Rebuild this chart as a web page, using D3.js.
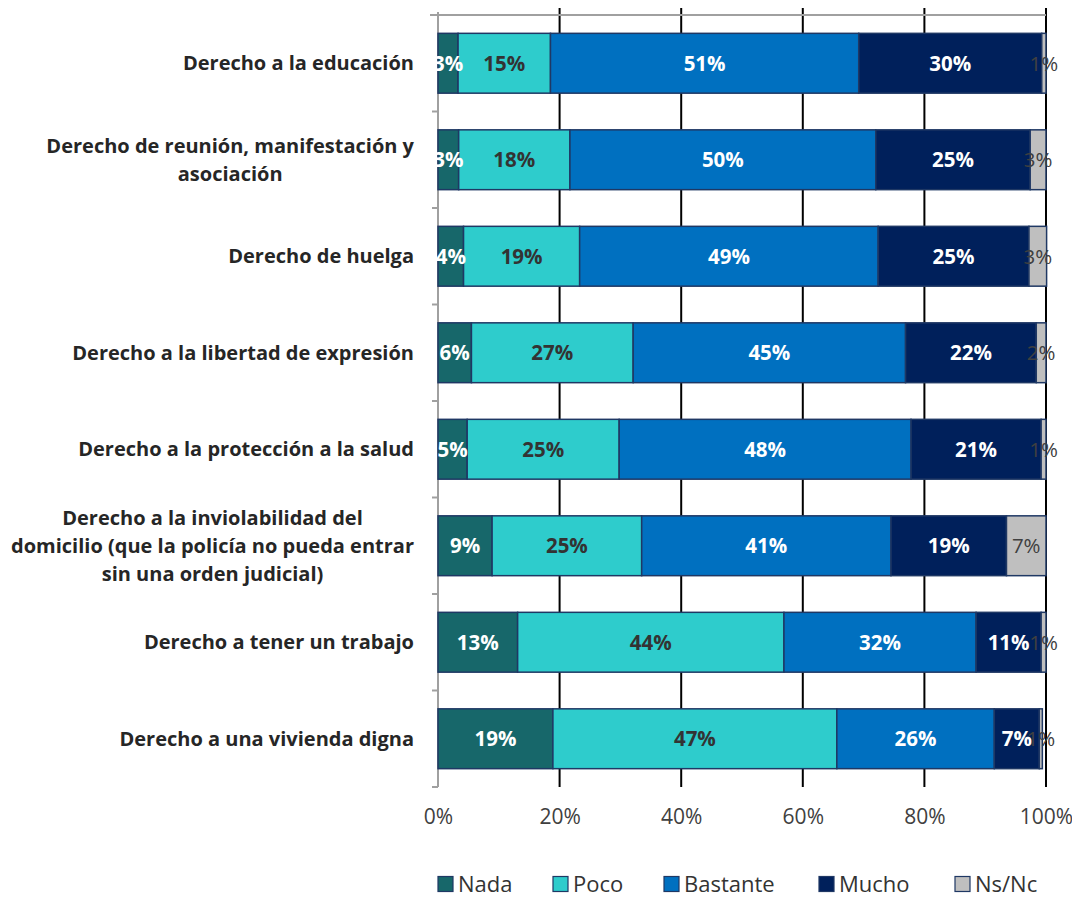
<!DOCTYPE html>
<html>
<head>
<meta charset="utf-8">
<script src="https://cdn.jsdelivr.net/npm/d3@7"></script>
<style>
  html, body { margin: 0; padding: 0; background: #fff; }
  svg { display: block; font-family: "Open Sans", sans-serif; }
</style>
</head>
<body>
<svg id="chart" width="1072" height="898"></svg>
<script>
// ---- data ----
const categories = [
  "Derecho a la educación",
  "Derecho de reunión, manifestación y\nasociación",
  "Derecho de huelga",
  "Derecho a la libertad de expresión",
  "Derecho a la protección a la salud",
  "Derecho a la inviolabilidad del\ndomicilio (que la policía no pueda entrar\nsin una orden judicial)",
  "Derecho a tener un trabajo",
  "Derecho a una vivienda digna"
];
const seriesNames = ["Nada", "Poco", "Bastante", "Mucho", "Ns/Nc"];
const nada     = [3.3, 3.4, 4.2, 5.5, 4.8, 8.9, 13.1, 18.9];
const poco     = [15.2, 18.3, 19.1, 26.6, 25.0, 24.6, 43.8, 46.7];
const bastante = [50.7, 50.3, 49.1, 44.8, 48.0, 41.0, 31.6, 25.9];
const mucho    = [30.1, 25.4, 24.8, 21.5, 21.4, 19.0, 10.7, 7.4];
const nsnc     = [0.7, 2.6, 2.9, 1.6, 0.8, 6.5, 0.8, 0.5];
const tickValues = [0, 20, 40, 60, 80, 100];

const seriesValues = [nada, poco, bastante, mucho, nsnc];
const colors = ["#17676A", "#2ECCCC", "#0070C0", "#00205B", "#BFBFBF"];
const labelColors = ["#FFFFFF", "#333333", "#FFFFFF", "#FFFFFF", "#404040"];
const labelWeights = ["bold", "bold", "bold", "bold", "normal"];

// ---- build table ----
const table = categories.map((c, i) => {
  const row = { category: c };
  seriesNames.forEach((s, j) => row[s] = seriesValues[j][i]);
  return row;
});
const stacked = d3.stack().keys(seriesNames)(table);

const svg = d3.select("#chart");
const x = d3.scaleLinear().domain([0, 100]).range([438, 1046]);
const y = d3.scaleBand().domain(categories).range([15, 787]).paddingInner(0.38).paddingOuter(0.19);
const step = y.step();

// gridlines
svg.append("g").selectAll("line").data(tickValues.filter(d => d > 0)).join("line")
  .attr("x1", d => x(d)).attr("x2", d => x(d))
  .attr("y1", 8).attr("y2", 787)
  .attr("stroke", "#000").attr("stroke-width", 2);

// top axis line
svg.append("line").attr("x1", 430).attr("x2", x(100)).attr("y1", 15).attr("y2", 15)
  .attr("stroke", "#A0A0A0").attr("stroke-width", 2);

// left axis
svg.append("line").attr("x1", x(0)).attr("x2", x(0)).attr("y1", 12).attr("y2", 787)
  .attr("stroke", "#A0A0A0").attr("stroke-width", 2);
const boundaries = d3.range(categories.length + 1).map(i => 15 + i * step);
svg.append("g").selectAll("line").data(boundaries).join("line")
  .attr("x1", x(0) - 6).attr("x2", x(0))
  .attr("y1", d => d).attr("y2", d => d)
  .attr("stroke", "#A0A0A0").attr("stroke-width", 2);

// bars
const groups = svg.append("g").selectAll("g").data(stacked).join("g")
  .attr("fill", (d, i) => colors[i]);
groups.selectAll("rect").data(d => d).join("rect")
  .attr("x", d => x(d[0]))
  .attr("y", d => y(d.data.category))
  .attr("width", d => x(d[1]) - x(d[0]))
  .attr("height", y.bandwidth())
  .attr("stroke", "#1F3864").attr("stroke-width", 1.5);

// value labels
stacked.forEach((layer, i) => {
  svg.append("g").selectAll("text").data(layer).join("text")
    .attr("x", d => (x(d[0]) + x(d[1])) / 2)
    .attr("y", d => y(d.data.category) + y.bandwidth() / 2)
    .attr("dy", "0.36em")
    .attr("text-anchor", "middle")
    .attr("font-size", 20.5)
    .attr("font-weight", labelWeights[i])
    .attr("fill", labelColors[i])
    .text(d => Math.round(d[1] - d[0]) + "%");
});

// x tick labels (bottom)
const xAxis = d3.axisBottom(x).tickValues(tickValues).tickFormat(d => d + "%").tickSize(0);
const gx = svg.append("g").attr("transform", "translate(0,806)").call(xAxis);
gx.select(".domain").remove();
gx.selectAll("text").attr("font-size", 21).attr("fill", "#404040")
  .attr("font-family", "'Open Sans', sans-serif");

// category labels
const rightEdge = 414;
const lineH = 28;
categories.forEach(c => {
  const lines = c.split("\n");
  const cy = y(c) + y.bandwidth() / 2;
  const t = svg.append("text")
    .attr("font-size", 20).attr("font-weight", "bold").attr("fill", "#262626");
  lines.forEach((ln, k) => {
    t.append("tspan").attr("y", cy + (k - (lines.length - 1) / 2) * lineH).attr("dy", "0.36em").text(ln);
  });
  if (lines.length === 1) {
    t.attr("text-anchor", "end").selectAll("tspan").attr("x", rightEdge);
  } else {
    let w = 0;
    t.selectAll("tspan").each(function () { w = Math.max(w, this.getComputedTextLength()); });
    t.attr("text-anchor", "middle").selectAll("tspan").attr("x", rightEdge - w / 2);
  }
});

// legend
const legendX = [438, 553, 664, 819, 955];
const lg = svg.append("g").selectAll("g").data(seriesNames).join("g")
  .attr("transform", (d, i) => `translate(${legendX[i]},884)`);
lg.append("rect").attr("x", 0).attr("y", -7.5).attr("width", 15).attr("height", 15)
  .attr("fill", (d, i) => colors[i]).attr("stroke", "#1F3864").attr("stroke-width", 1.2);
lg.append("text").attr("x", 20).attr("dy", "0.36em").attr("font-size", 22).attr("fill", "#333")
  .text(d => d);
</script>
</body>
</html>
